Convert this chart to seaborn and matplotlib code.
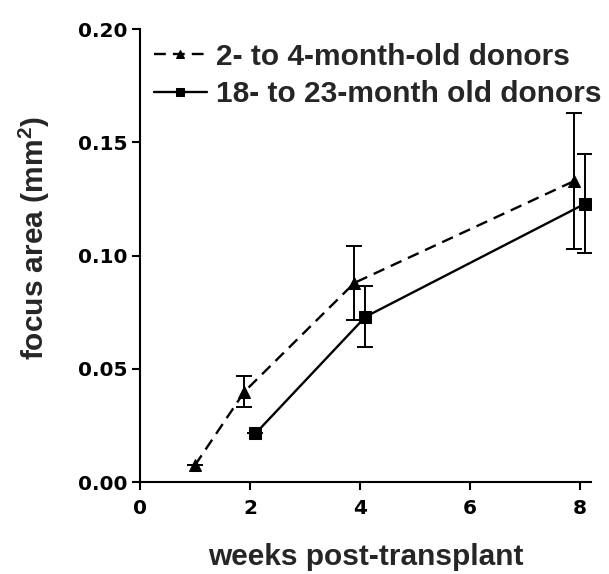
import matplotlib
matplotlib.use("Agg")
import matplotlib.pyplot as plt
import seaborn as sns
import pandas as pd
import numpy as np

young_weeks = [1.0, 1.9, 3.9, 7.9]
young_area = [0.0075, 0.040, 0.088, 0.133]
young_err = [0.0, 0.007, 0.0165, 0.030]

old_weeks = [2.1, 4.1, 8.1]
old_area = [0.0215, 0.073, 0.123]
old_err = [0.0, 0.0135, 0.022]

young_label = "2- to 4-month-old donors"
old_label = "18- to 23-month old donors"

x_ticks = [0, 2, 4, 6, 8]
y_ticks = [0.00, 0.05, 0.10, 0.15, 0.20]

sns.set_theme(style="ticks")
plt.rcParams['font.family'] = ['Liberation Sans', 'DejaVu Sans']
plt.rcParams['font.weight'] = 'bold'
plt.rcParams['mathtext.fontset'] = 'custom'
plt.rcParams['mathtext.bf'] = 'Liberation Sans:bold'
plt.rcParams['mathtext.rm'] = 'Liberation Sans:bold'

fig = plt.figure(figsize=(6.09, 5.74), dpi=100)
ax = fig.add_axes([0.23, 0.160, 0.74, 0.789])

df_y = pd.DataFrame({"weeks": young_weeks, "area": young_area})
df_o = pd.DataFrame({"weeks": old_weeks, "area": old_area})

ax.errorbar(young_weeks, young_area, yerr=young_err, fmt='none', ecolor='black',
            elinewidth=1.4, capsize=6, capthick=1.4, zorder=2)
ax.errorbar(old_weeks, old_area, yerr=old_err, fmt='none', ecolor='black',
            elinewidth=1.4, capsize=6, capthick=1.4, zorder=2)

sns.lineplot(data=df_y, x="weeks", y="area", ax=ax, color='black', linewidth=1.7,
             linestyle=(0, (5, 3)), marker='^', markersize=8, markeredgecolor='black',
             label=young_label, zorder=3)
sns.lineplot(data=df_o, x="weeks", y="area", ax=ax, color='black', linewidth=1.7,
             linestyle='-', marker='s', markersize=8, markeredgecolor='black',
             label=old_label, zorder=3)

ax.set_xlim(0, 8.2)
ax.set_ylim(0, 0.2)
ax.set_xticks(x_ticks)
ax.set_xticklabels([str(t) for t in x_ticks])
ax.set_yticks(y_ticks)
ax.set_yticklabels([f"{t:.2f}" for t in y_ticks])
sns.despine(ax=ax)
for s in ['left', 'bottom']:
    ax.spines[s].set_linewidth(1.5)
    ax.spines[s].set_color('black')
ax.tick_params(axis='both', direction='out', length=6, width=1.5,
               colors='black')
ax.tick_params(axis='x', pad=6)
ax.tick_params(axis='y', pad=3)
for lab in ax.get_xticklabels() + ax.get_yticklabels():
    lab.set_fontweight('bold')
    lab.set_fontfamily(['DejaVu Sans'])
    lab.set_fontsize(14.5)

ax.set_xlabel("weeks post-transplant", fontsize=21.5, fontweight='bold', labelpad=18)
ax.set_ylabel("focus area (mm$^\\mathbf{2}$)", fontsize=21.5, fontweight='bold', labelpad=18)
ax.yaxis.set_label_coords(-0.195, 0.54)

leg = ax.legend(loc='upper left', bbox_to_anchor=(0.0, 1.0), frameon=False,
                fontsize=21.5, handlelength=1.8, handletextpad=0.3, labelspacing=0.32,
                borderaxespad=0.05)
for t in leg.get_texts():
    t.set_fontweight('bold')
for h in leg.get_lines():
    h.set_markersize(6)

fig.savefig("out.png", dpi=100)
